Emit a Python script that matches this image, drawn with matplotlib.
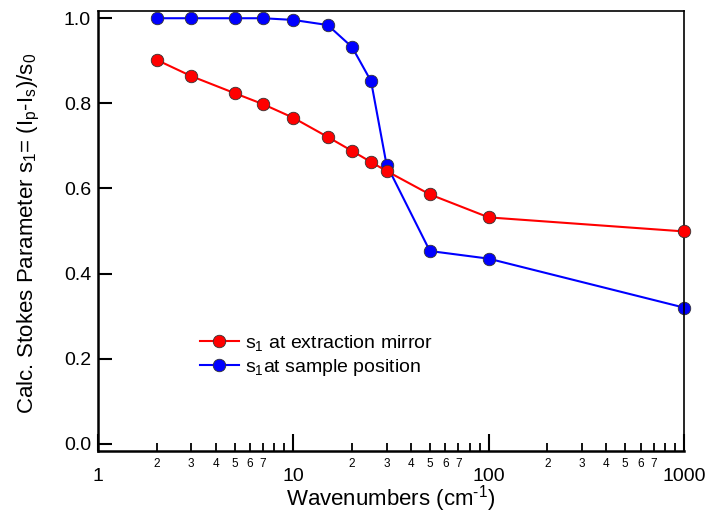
import numpy as np
import matplotlib.pyplot as plt
from matplotlib.ticker import LogLocator, FixedLocator, FuncFormatter

plt.rcParams['font.family'] = ['Liberation Sans', 'DejaVu Sans']
plt.rcParams['mathtext.fontset'] = 'custom'
plt.rcParams['mathtext.rm'] = 'Liberation Sans'
plt.rcParams['mathtext.it'] = 'Liberation Sans'

# wavenumbers in cm^-1
wavenumber = [2, 3, 5, 7, 10, 15, 20, 25, 30, 50, 100, 1000]
s1_mirror = [0.902, 0.864, 0.824, 0.798, 0.766, 0.721, 0.688, 0.662, 0.641, 0.586, 0.532, 0.499]
s1_sample = [1.0, 1.0, 1.0, 1.0, 0.996, 0.984, 0.932, 0.852, 0.656, 0.453, 0.435, 0.320]


def minor_label(x, pos):
    # only label the 2..7 minor ticks of each decade
    lead = int(round(x / 10 ** np.floor(np.log10(x) + 1e-9)))
    if 2 <= lead <= 7:
        return str(lead)
    return ""


fig = plt.figure(figsize=(7.06, 5.15), dpi=100)
ax = fig.add_axes([98 / 706, 1 - 451 / 515, 586 / 706, 440 / 515])

ax.plot(wavenumber, s1_mirror, '-o', color='red', lw=1.5, ms=9,
        mec='#333333', mew=0.6, label='s$_1$ at extraction mirror', clip_on=False, zorder=3)
ax.plot(wavenumber, s1_sample, '-o', color='blue', lw=1.5, ms=9,
        mec='#333333', mew=0.6, label='s$_1$at sample position', clip_on=False, zorder=2)

ax.set_xscale('log')
ax.set_xlim(1, 1000)
ax.set_ylim(-0.017, 1.017)

ax.xaxis.set_major_locator(FixedLocator([1, 10, 100, 1000]))
ax.xaxis.set_major_formatter(FuncFormatter(lambda x, p: f"{x:g}"))
ax.xaxis.set_minor_locator(LogLocator(base=10, subs=np.arange(2, 10)))
ax.xaxis.set_minor_formatter(FuncFormatter(minor_label))
ax.set_yticks([0.0, 0.2, 0.4, 0.6, 0.8, 1.0])
ax.yaxis.set_major_formatter(FuncFormatter(lambda y, p: f"{y:.1f}"))

ax.tick_params(axis='both', which='major', direction='in', width=1.5,
               labelsize=14, top=False, right=False)
ax.tick_params(axis='x', which='major', length=12, pad=12)
ax.tick_params(axis='y', which='major', length=10, pad=5)
ax.tick_params(axis='x', which='minor', direction='in', length=6, width=1.3,
               labelsize=8.5, pad=5, top=False)

for side in ['left', 'bottom']:
    ax.spines[side].set_linewidth(1.8)
for side in ['top', 'right']:
    ax.spines[side].set_linewidth(1.2)

ax.set_xlabel(r'Wavenumbers (cm$^{\text{-1}}$)', fontsize=16)
ax.xaxis.set_label_coords(0.5, -0.074)
ax.set_ylabel('Calc. Stokes Parameter s$_1$= (I$_p$-I$_s$)/s$_0$', fontsize=16)
ax.yaxis.set_label_coords(-0.096, 0.495)

ax.legend(loc='center left', bbox_to_anchor=(0.174, 0.218), frameon=False, fontsize=14,
          borderpad=0, borderaxespad=0, handlelength=2.0, handletextpad=0.3,
          labelspacing=0.2)

fig.savefig('out.png', dpi=100)
